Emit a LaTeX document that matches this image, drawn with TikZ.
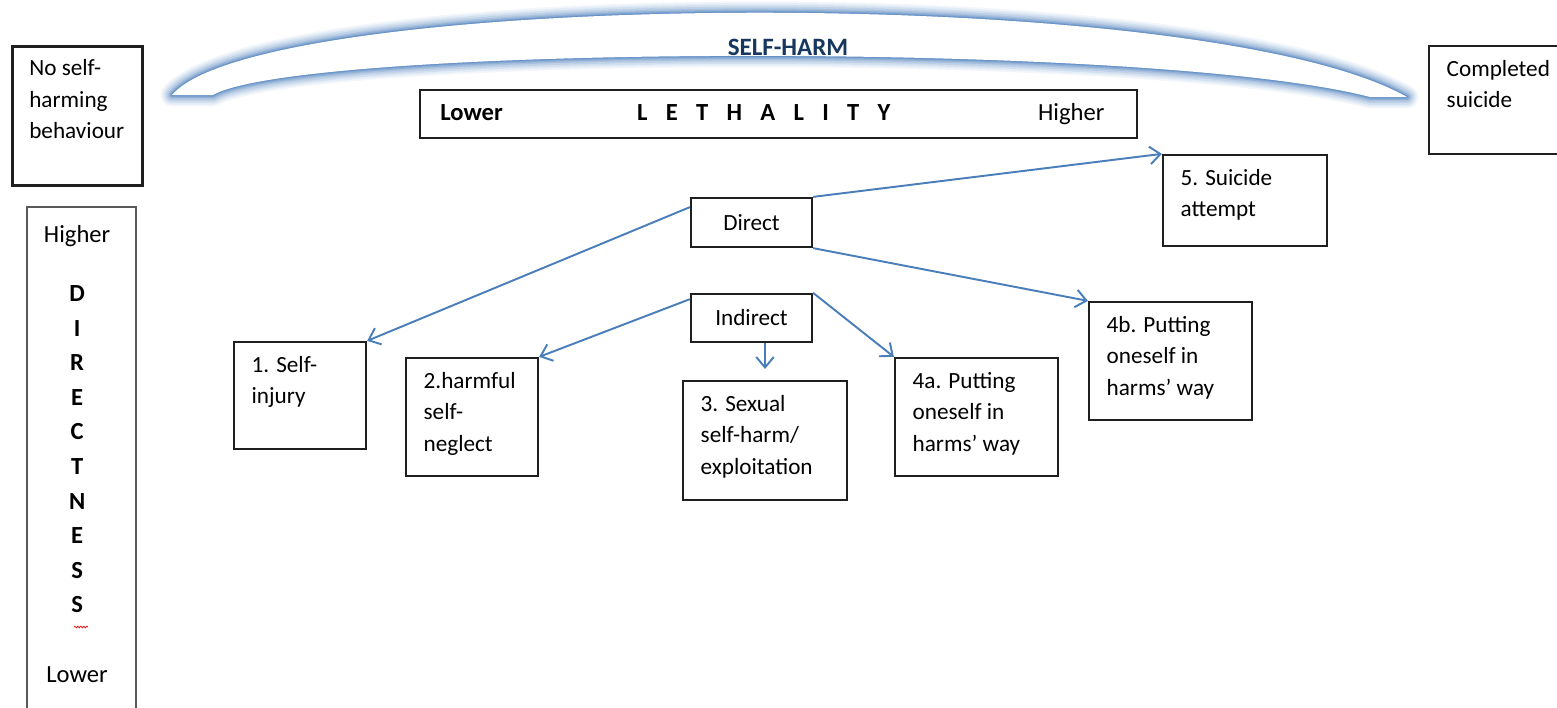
\documentclass[tikz,border=0pt]{standalone}
\usepackage{fontspec}
\setmainfont{Carlito}
\usepackage{tikz}
\usetikzlibrary{positioning}
\usetikzlibrary{arrows.meta}
\usetikzlibrary{decorations.pathmorphing}
\definecolor{linkblue}{RGB}{74,126,187}
\definecolor{glowblue}{RGB}{79,129,189}
\definecolor{titleblue}{RGB}{23,55,94}
\newcommand{\lgap}{\hspace{10.4pt}}

\begin{document}
\begin{tikzpicture}[x=0.02cm,y=-0.02cm,
        every node/.style={font=\fontsize{13.2}{17.9}\selectfont},
        box/.style={draw=black!88, line width=1.3pt, inner sep=0pt},
        txt/.style={anchor=north west, align=left, inner xsep=10.5pt, inner ysep=8.5pt},
        axis/.style={font=\fontsize{14}{19.7}\selectfont},
        link/.style={draw=linkblue, line width=1.1pt, -{Straight Barb[length=6pt,width=10pt]}}]
            \useasboundingbox (0,0) rectangle (1557,707);
            % the self-harm arc
            \foreach \w/\o in {13/0.07,11/0.09,9/0.12,7/0.15,5/0.2,3.4/0.26,2/0.35,1/0.5}
                \draw[glowblue, opacity=\o, line width=\w pt, line join=round]
                    (172,95) .. controls (260,-10) and (1200,-20) .. (1407,97) -- (1370,97)
                    .. controls (1150,40) and (300,45) .. (213,95) -- cycle;
            \fill[white] (172,95) .. controls (260,-10) and (1200,-20) .. (1407,97) -- (1370,97)
                    .. controls (1150,40) and (300,45) .. (213,95) -- cycle;
            \node[text=titleblue, font=\fontsize{14.2}{17}\selectfont\bfseries] (title) at (788,47) {SELF-HARM};
            % ends and axes
            \node[box, line width=1.7pt, minimum width=2.62cm, minimum height=2.8cm,
                label={[txt]north west:No self-\\harming\\behaviour}] (noself) at (77.5,116) {};
            \node[box, draw=black!65, line width=0.8pt, minimum width=2.18cm, minimum height=10.1cm,
                label={[anchor=north, axis, align=center, inner ysep=10.8pt, xshift=-2.5pt]north:Higher\\[13.7pt]
                \textbf{D}\\\textbf{I}\\\textbf{R}\\\textbf{E}\\\textbf{C}\\\textbf{T}\\\textbf{N}\\\textbf{E}\\\textbf{S}\\\textbf{S}\\[20pt]Lower}] (directness) at (81.5,459.5) {};
            \draw[red, line width=0.4pt, decorate, decoration={snake, amplitude=0.5pt, segment length=1.7pt}] (74,627) -- (88,627);
            \node[box, line width=1.5pt, minimum width=14.34cm, minimum height=0.96cm, axis] (lethality) at (778.5,114)
                {\textbf{Lower}\hspace{76.5pt}\textbf{L\lgap E\lgap T\lgap H\lgap A\lgap L\lgap I\lgap T\lgap Y}\hspace{84pt}Higher\kern7pt};
            \node[box, minimum width=2.82cm, minimum height=2.16cm,
                label={[txt]north west:Completed\\suicide}] (completed) at (1499.5,100) {};
            % direct and indirect
            \node[box, minimum width=2.42cm, minimum height=0.98cm] (direct) at (751.5,222.5) {Direct};
            \node[box, minimum width=2.42cm, minimum height=0.96cm] (indirect) at (751.5,318) {Indirect};
            % kinds of self-harm
            \node[box, minimum width=2.64cm, minimum height=2.14cm,
                label={[txt]north west:1. Self-\\injury}] (one) at (300,395.5) {};
            \node[box, minimum width=2.64cm, minimum height=2.36cm,
                label={[txt]north west:2.harmful\\self-\\neglect}] (two) at (472,417) {};
            \node[box, minimum width=3.28cm, minimum height=2.38cm,
                label={[txt]north west:3. Sexual\\self-harm/\\exploitation}] (three) at (765,440.5) {};
            \node[box, minimum width=3.26cm, minimum height=2.36cm,
                label={[txt]north west:4a. Putting\\oneself in\\harms’ way}] (foura) at (976.5,417) {};
            \node[box, minimum width=3.26cm, minimum height=2.36cm,
                label={[txt]north west:4b. Putting\\oneself in\\harms’ way}] (fourb) at (1170.5,361) {};
            \node[box, minimum width=3.28cm, minimum height=1.82cm,
                label={[txt]north west:5. Suicide\\attempt}] (five) at (1245,200.5) {};
            % arrows
            \draw[link] (direct.166) -- (one.north east);
            \draw[link] (direct.north east) -- (five.north west);
            \draw[link] (direct.south east) -- (fourb.north west);
            \draw[link] (indirect.163) -- (two.north east);
            \draw[link, shorten >=6.2pt] (indirect.south -| three.north) -- (three.north);
            \draw[link] (indirect.north east) -- (foura.north west);
        \end{tikzpicture}
\end{document}
